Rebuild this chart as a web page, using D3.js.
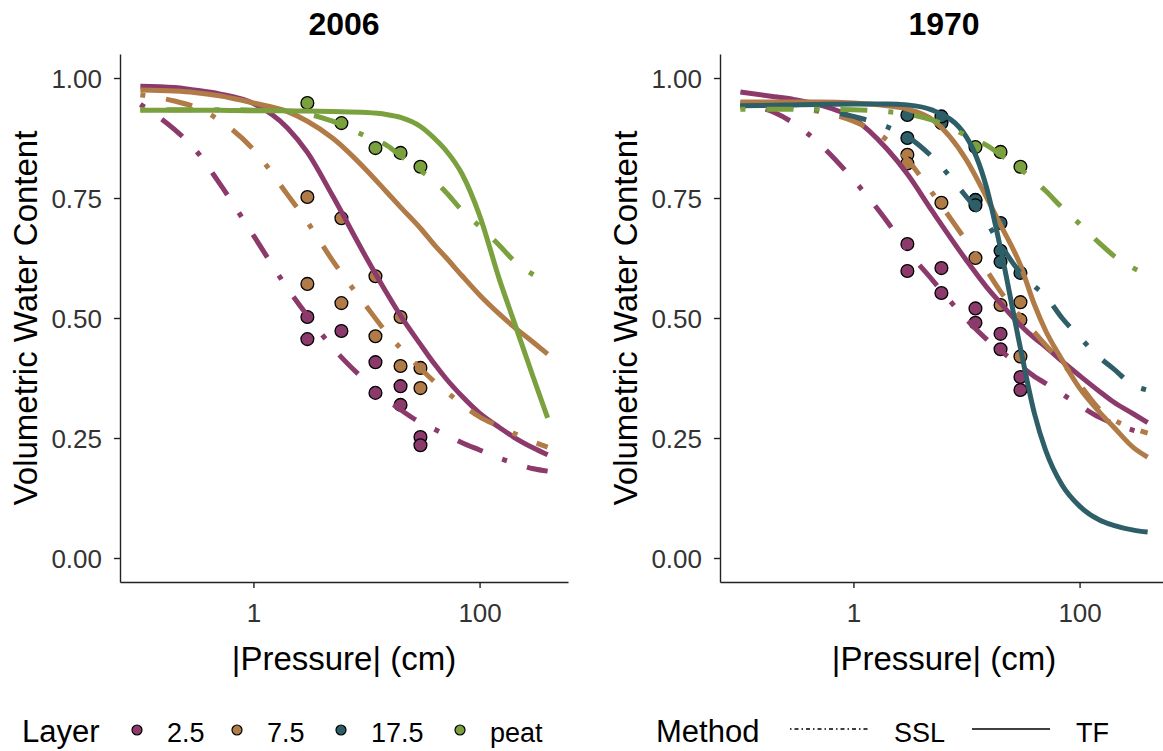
<!DOCTYPE html>
<html><head><meta charset="utf-8">
<script src="https://cdn.jsdelivr.net/npm/d3@7"></script>
<style>body{margin:0;background:#fff}svg{display:block;font-family:"Liberation Sans",Arial,sans-serif}</style>
</head><body><svg id="c" width="1163" height="751"></svg>
<script>
// ---------- data ----------
const panelTitles = ["2006", "1970"];
const layers = ["2.5", "7.5", "17.5", "peat"];
const layerColors = ["#8B3A6B", "#B07B47", "#2E5E67", "#7BA03E"];
const methods = ["SSL", "TF"];
const xTickValues = [1, 100];
const xTickLabels = ["1", "100"];
const yTickValues = [0, 0.25, 0.5, 0.75, 1];
const yTickLabels = ["0.00", "0.25", "0.50", "0.75", "1.00"];
const pressureGrid = [0.1,0.2,0.3,0.5,1,2,3,5,10,15,20,30,40,50,70,100,150,200,300,400];

// 2006 fitted curves
const tf2006_2_5  = [0.983,0.980,0.975,0.967,0.947,0.896,0.845,0.755,0.625,0.553,0.505,0.445,0.404,0.375,0.337,0.302,0.272,0.252,0.229,0.215];
const tf2006_7_5  = [0.975,0.973,0.970,0.963,0.948,0.930,0.910,0.875,0.808,0.763,0.731,0.687,0.652,0.627,0.588,0.548,0.508,0.482,0.449,0.425];
const tf2006_peat = [0.933,0.933,0.933,0.933,0.932,0.932,0.931,0.930,0.928,0.924,0.918,0.899,0.874,0.850,0.800,0.714,0.580,0.495,0.375,0.292];
const ssl2006_2_5  = [0.945,0.893,0.853,0.781,0.672,0.562,0.505,0.439,0.367,0.330,0.309,0.282,0.268,0.257,0.240,0.225,0.208,0.198,0.186,0.181];
const ssl2006_7_5  = [0.965,0.952,0.940,0.912,0.851,0.757,0.700,0.620,0.524,0.470,0.437,0.395,0.367,0.348,0.320,0.294,0.274,0.260,0.242,0.231];
const ssl2006_peat = [0.934,0.934,0.934,0.934,0.933,0.930,0.925,0.910,0.878,0.860,0.838,0.807,0.785,0.763,0.724,0.691,0.651,0.620,0.590,0.575];

// 1970 fitted curves
const tf1970_2_5  = [0.971,0.961,0.955,0.944,0.916,0.851,0.800,0.722,0.620,0.565,0.531,0.485,0.458,0.440,0.410,0.380,0.347,0.325,0.300,0.282];
const tf1970_7_5  = [0.950,0.950,0.950,0.950,0.948,0.942,0.935,0.913,0.829,0.752,0.694,0.610,0.527,0.474,0.413,0.354,0.304,0.273,0.230,0.210];
const tf1970_17_5 = [0.942,0.943,0.944,0.945,0.946,0.946,0.944,0.933,0.877,0.773,0.645,0.437,0.300,0.225,0.152,0.108,0.079,0.068,0.058,0.054];
const ssl1970_2_5  = [0.948,0.928,0.905,0.863,0.788,0.700,0.641,0.579,0.497,0.456,0.432,0.400,0.378,0.364,0.342,0.318,0.293,0.280,0.266,0.258];
const ssl1970_7_5  = [0.945,0.942,0.938,0.930,0.910,0.870,0.830,0.760,0.660,0.600,0.555,0.503,0.470,0.444,0.407,0.362,0.310,0.288,0.270,0.260];
const ssl1970_17_5 = [0.940,0.940,0.938,0.933,0.920,0.898,0.878,0.835,0.752,0.700,0.653,0.594,0.566,0.546,0.500,0.460,0.418,0.394,0.360,0.350];
const ssl1970_peat = [0.935,0.935,0.935,0.935,0.934,0.930,0.925,0.912,0.880,0.860,0.840,0.810,0.786,0.765,0.730,0.696,0.656,0.630,0.604,0.590];

// measured points [pressure, theta]
const pts2006_2_5  = [[3,0.502],[3,0.456],[6,0.473],[12,0.408],[12,0.344],[20,0.358],[20,0.319],[30,0.252],[30,0.235]];
const pts2006_7_5  = [[3,0.752],[3,0.571],[6,0.708],[6,0.531],[12,0.587],[12,0.462],[20,0.502],[20,0.400],[30,0.396],[30,0.354]];
const pts2006_peat = [[3,0.948],[6,0.906],[12,0.854],[20,0.844],[30,0.815]];
const pts1970_2_5  = [[3,0.654],[3,0.598],[6,0.604],[6,0.552],[12,0.520],[12,0.490],[20,0.467],[20,0.435],[30,0.377],[30,0.350]];
const pts1970_7_5  = [[3,0.840],[3,0.822],[6,0.740],[12,0.745],[12,0.625],[20,0.527],[30,0.533],[30,0.496],[30,0.420]];
const pts1970_17_5 = [[3,0.923],[3,0.875],[6,0.906],[6,0.920],[12,0.746],[12,0.735],[20,0.698],[20,0.640],[20,0.617],[30,0.594]];
const pts1970_peat = [[6,0.910],[12,0.856],[20,0.846],[30,0.815]];

const panelCurves = [
  [ {layer:0, method:"SSL", v:ssl2006_2_5}, {layer:0, method:"TF", v:tf2006_2_5},
    {layer:1, method:"SSL", v:ssl2006_7_5}, {layer:1, method:"TF", v:tf2006_7_5},
    {layer:3, method:"SSL", v:ssl2006_peat}, {layer:3, method:"TF", v:tf2006_peat} ],
  [ {layer:0, method:"SSL", v:ssl1970_2_5}, {layer:0, method:"TF", v:tf1970_2_5},
    {layer:1, method:"SSL", v:ssl1970_7_5}, {layer:1, method:"TF", v:tf1970_7_5},
    {layer:2, method:"SSL", v:ssl1970_17_5}, {layer:2, method:"TF", v:tf1970_17_5},
    {layer:3, method:"SSL", v:ssl1970_peat} ]
];
const panelPoints = [
  [ {layer:0, p:pts2006_2_5}, {layer:1, p:pts2006_7_5}, {layer:3, p:pts2006_peat} ],
  [ {layer:3, p:pts1970_peat}, {layer:0, p:pts1970_2_5}, {layer:1, p:pts1970_7_5}, {layer:2, p:pts1970_17_5} ]
];

// ---------- layout ----------
const svg = d3.select("#c");
const FONT = '"Liberation Sans", Arial, sans-serif';
const panelLeft = [120, 720];
const panelW = 448;
const plotTop = 54, plotBottom = 582;
const lo = Math.log10(0.1), hi = Math.log10(400), span = hi - lo;
const xDomain = [Math.pow(10, lo - 0.05 * span), Math.pow(10, hi + 0.05 * span)];
const y = d3.scaleLinear().domain([-0.05, 1.05]).range([plotBottom, plotTop]);
const dashSSL = "5 21 27 21";

panelTitles.forEach((title, pi) => {
  const L = panelLeft[pi];
  const x = d3.scaleLog().domain(xDomain).range([L, L + panelW]);
  const g = svg.append("g");

  panelPoints[pi].forEach(s => {
    g.selectAll(null).data(s.p).enter().append("circle")
      .attr("cx", d => x(d[0])).attr("cy", d => y(d[1])).attr("r", 6.4)
      .attr("fill", layerColors[s.layer]).attr("stroke", "#000").attr("stroke-width", 1.3);
  });

  const line = d3.line().x((d, i) => x(pressureGrid[i])).y(d => y(d)).curve(d3.curveMonotoneX);
  panelCurves[pi].forEach(c => {
    g.append("path").attr("d", line(c.v)).attr("fill", "none")
      .attr("stroke", layerColors[c.layer]).attr("stroke-width", 5)
      .attr("stroke-dasharray", c.method === "SSL" ? dashSSL : null)
      .attr("stroke-linejoin", "round");
  });

  const xa = g.append("g").attr("transform", `translate(0,${plotBottom})`)
    .call(d3.axisBottom(x).tickValues(xTickValues).tickFormat((d, i) => xTickLabels[i]).tickSize(6).tickSizeOuter(0));
  const ya = g.append("g").attr("transform", `translate(${L},0)`)
    .call(d3.axisLeft(y).tickValues(yTickValues).tickFormat((d, i) => yTickLabels[i]).tickSize(6).tickSizeOuter(0));
  [xa, ya].forEach(a => {
    a.select(".domain").attr("stroke", "#222").attr("stroke-width", 1.4);
    a.selectAll(".tick line").attr("stroke", "#222").attr("stroke-width", 1.4);
    a.selectAll(".tick text").attr("font-family", FONT).attr("font-size", 26).attr("fill", "#333");
  });
  xa.selectAll(".tick text").attr("dy", null).attr("y", 40);
  ya.selectAll(".tick text").attr("dy", "0.36em").attr("x", -18);

  svg.append("text").attr("x", L + panelW / 2).attr("y", 35).attr("text-anchor", "middle")
    .attr("font-size", 32).attr("font-weight", "bold").attr("fill", "#000").text(title);
  svg.append("text").attr("x", L + panelW / 2).attr("y", 670).attr("text-anchor", "middle")
    .attr("font-size", 33).attr("fill", "#000").text("|Pressure| (cm)");
  svg.append("text").attr("transform", `translate(${L - 83},${(plotTop + plotBottom) / 2}) rotate(-90)`)
    .attr("text-anchor", "middle").attr("font-size", 33).attr("fill", "#000").text("Volumetric Water Content");
});

// ---------- legends ----------
const legY = 742;
svg.append("text").attr("x", 22).attr("y", legY).attr("font-size", 31).attr("fill", "#000").text("Layer");
const dotX = [137, 237, 341, 460];
layers.forEach((lab, i) => {
  svg.append("circle").attr("cx", dotX[i]).attr("cy", 730).attr("r", 5)
    .attr("fill", layerColors[i]).attr("stroke", "#000").attr("stroke-width", 1.2);
  svg.append("text").attr("x", dotX[i] + 30).attr("y", legY).attr("font-size", 27).attr("fill", "#000").text(lab);
});
svg.append("text").attr("x", 656).attr("y", legY).attr("font-size", 31).attr("fill", "#000").text("Method");
const keyX = [790, 972];
const labX = [894, 1076];
methods.forEach((m, i) => {
  svg.append("line").attr("x1", keyX[i]).attr("x2", keyX[i] + 78).attr("y1", 729).attr("y2", 729)
    .attr("stroke", "#000").attr("stroke-width", 1.5)
    .attr("stroke-dasharray", m === "SSL" ? "1.5 3 4 3" : null);
  svg.append("text").attr("x", labX[i]).attr("y", legY).attr("font-size", 27).attr("fill", "#000").text(m);
});
</script></body></html>
